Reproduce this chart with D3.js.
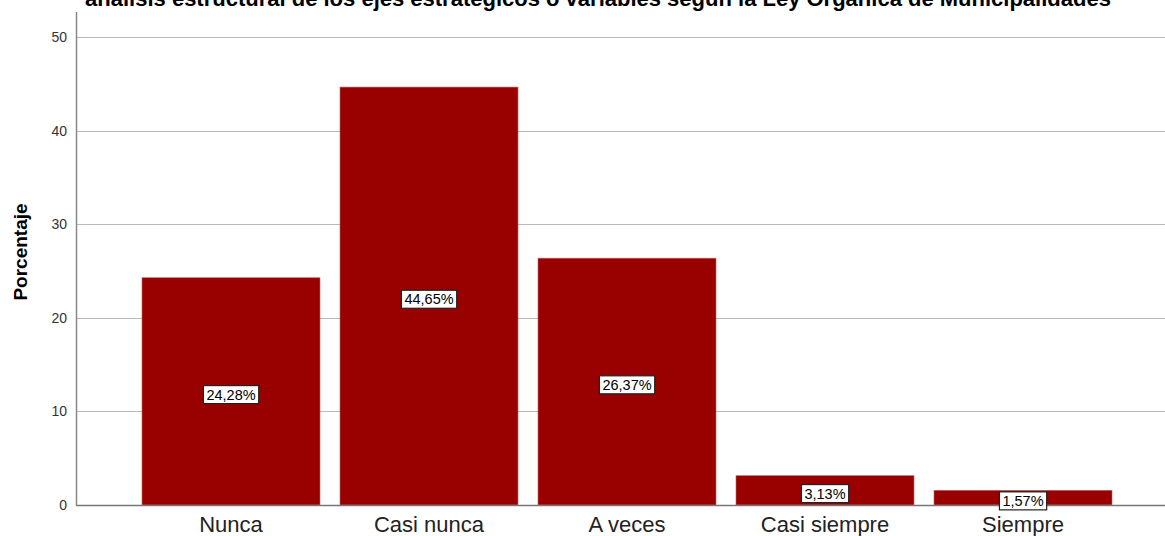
<!DOCTYPE html>
<html>
<head>
<meta charset="utf-8">
<script src="https://cdn.jsdelivr.net/npm/d3@7"></script>
<style>
  html, body { margin: 0; padding: 0; background: #fff; }
  svg { display: block; }
</style>
</head>
<body>
<svg id="chart" width="1165" height="536"></svg>
<script>
const categories = ["Nunca", "Casi nunca", "A veces", "Casi siempre", "Siempre"];
const values = [24.28, 44.65, 26.37, 3.13, 1.57];
const valueLabels = ["24,28%", "44,65%", "26,37%", "3,13%", "1,57%"];
const yTicks = [0, 10, 20, 30, 40, 50];
const title = "análisis estructural de los ejes estratégicos o variables según la Ley Orgánica de Municipalidades";
const yTitle = "Porcentaje";

const svg = d3.select("#chart");
const axisX = 76, axisRight = 1165, axisTop = 12;
const FONT = "Liberation Sans, Arial, sans-serif";

const y = d3.scaleLinear().domain([0, 50]).range([505, 37]);
const x = d3.scaleBand().domain(categories).range([132, 1122]).paddingInner(0.101).paddingOuter(0.0505);

// title (top partly cut, as in reference)
svg.append("text")
  .attr("x", 598).attr("y", 6)
  .attr("text-anchor", "middle")
  .attr("font-family", FONT)
  .attr("font-weight", "bold")
  .attr("font-size", 22)
  .attr("fill", "#000")
  .text(title);

// gridlines
svg.append("g").selectAll("line").data(yTicks.filter(d => d > 0)).join("line")
  .attr("x1", axisX).attr("x2", axisRight)
  .attr("y1", d => Math.round(y(d)) + 0.5).attr("y2", d => Math.round(y(d)) + 0.5)
  .attr("stroke", "#b9b9b9").attr("stroke-width", 1);

// y axis
const yAxis = d3.axisLeft(y).tickValues(yTicks).tickSize(0).tickPadding(9).tickFormat(d3.format("d"));
const gy = svg.append("g").attr("transform", `translate(${axisX},0)`).call(yAxis);
gy.select(".domain").remove();
gy.selectAll(".tick text")
  .attr("font-family", FONT)
  .attr("font-size", 14).attr("fill", "#333");
svg.append("line")
  .attr("x1", axisX + 0.5).attr("x2", axisX + 0.5)
  .attr("y1", axisTop).attr("y2", y(0))
  .attr("stroke", "#888").attr("stroke-width", 1.5);

// bars
svg.append("g").selectAll("rect").data(categories).join("rect")
  .attr("x", d => x(d))
  .attr("width", x.bandwidth())
  .attr("y", (d, i) => y(values[i]))
  .attr("height", (d, i) => y(0) - y(values[i]))
  .attr("fill", "#990000")
  .attr("stroke", "#c46060").attr("stroke-width", 0.6);

// x axis line
svg.append("line")
  .attr("x1", axisX).attr("x2", axisRight)
  .attr("y1", y(0) + 0.5).attr("y2", y(0) + 0.5)
  .attr("stroke", "#777").attr("stroke-width", 1.5);

// x axis labels
const xAxis = d3.axisBottom(x).tickSize(0).tickPadding(11);
const gx = svg.append("g").attr("transform", `translate(0,${y(0)})`).call(xAxis);
gx.select(".domain").remove();
gx.selectAll(".tick text")
  .attr("font-family", FONT)
  .attr("font-size", 22).attr("fill", "#222");

// value labels
const lab = svg.append("g").selectAll("g").data(categories).join("g")
  .attr("transform", (d, i) => `translate(${x(d) + x.bandwidth() / 2},${y(values[i] / 2) + 3})`);
lab.append("text")
  .attr("text-anchor", "middle").attr("dy", "0.36em")
  .attr("font-family", FONT)
  .attr("font-size", 14.5).attr("fill", "#000")
  .text((d, i) => valueLabels[i]);
lab.each(function () {
  const g = d3.select(this);
  const bb = g.select("text").node().getBBox();
  g.insert("rect", "text")
    .attr("x", bb.x - 3).attr("y", bb.y - 1)
    .attr("width", bb.width + 6).attr("height", bb.height + 2)
    .attr("fill", "#fff").attr("stroke", "#222").attr("stroke-width", 1.2);
});

// y title
svg.append("text")
  .attr("transform", `translate(27,${252}) rotate(-90)`)
  .attr("text-anchor", "middle")
  .attr("font-family", FONT)
  .attr("font-weight", "bold").attr("font-size", 19).attr("fill", "#000")
  .text(yTitle);
</script>
</body>
</html>
